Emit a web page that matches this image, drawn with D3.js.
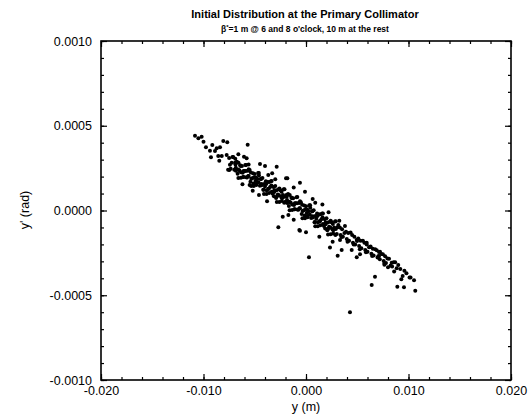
<!DOCTYPE html>
<html><head><meta charset="utf-8">
<script src="https://cdn.jsdelivr.net/npm/d3@7"></script>
<style>
body{margin:0;background:#fff}
svg{display:block}
text{font-family:"Liberation Sans",Arial,Helvetica,sans-serif;fill:#000}
</style>
</head><body>
<svg id="chart" width="530" height="417"></svg>
<script>
// ---------------- data ----------------
const titleText = "Initial Distribution at the Primary Collimator";
const subtitleParts = ["β", "*", "=1 m @ 6 and 8 o'clock, 10 m at the rest"];
const xLabelText = "y (m)";
const yLabelText = "y' (rad)";

const xTicks = [-0.020, -0.010, 0.000, 0.010, 0.020];
const xTickLabels = ["-0.020", "-0.010", "0.000", "0.010", "0.020"];
const yTicks = [-0.0010, -0.0005, 0.0000, 0.0005, 0.0010];
const yTickLabels = ["-0.0010", "-0.0005", "0.0000", "0.0005", "0.0010"];

// [y (m), y' (rad)] — upper-left tail and scattered particles
const tailPoints = [
  [-0.01083,0.000441],[-0.0105,0.000426],[-0.01018,0.000435],[-0.01,0.000405],[-0.00976,0.000373],
  [-0.00937,0.000353],[-0.00914,0.000386],[-0.00888,0.000351],[-0.00871,0.000367],[-0.00839,0.000373],
  [-0.00807,0.00041],[-0.00768,0.000402],[-0.00569,0.000388],[-0.00927,0.000314],[-0.00856,0.000322],
  [-0.00822,0.000322],[-0.00846,0.000294],[-0.00774,0.000327],[-0.0066,0.000332],[-0.00605,0.000317],
  [-0.00579,0.000308],[-0.00748,0.000239],[-0.0052,0.000117],[-0.00459,0.000091],[-0.00368,0.000209],
  [-0.00286,0.000258],[-0.00449,0.000274],[-0.004,0.000263],[-0.00059,0.000164],[-0.00195,0.00019],
  [-0.00182,0.00019],[-0.0001,0.000111],[0.00065,0.000068],[-0.0027,-0.000099],[-0.00065,-0.000115],
  [-0.00227,-0.000037],[-0.00172,-0.000027],[-0.003,0.000185],[-0.0012,0.000135],[0.0009,0.000045],
  [0.0016,0.000035],[0.0022,-0.00001],[-0.0056,0.000272],[-0.0069,0.000305],[-0.0033,0.00022],
  [-0.0062,0.000155],[-0.0038,0.000055],[-0.0012,-0.000055],[0.0013,-0.000155],[0.0026,-0.000185],
  [-0.0055,0.00015]
];

// [y (m), y' (rad)] — dense core of the distribution
const corePoints = [
  [-0.0075,0.00031],[-0.00742,0.00027],[-0.0076,0.00024],
  [-0.00725,0.000281],[-0.00717,0.000316],[-0.00735,0.000246],
  [-0.007,0.000241],[-0.00692,0.000281],[-0.0071,0.000316],
  [-0.00675,0.000287],[-0.00667,0.000217],[-0.00685,0.000252],
  [-0.0065,0.000237],[-0.00642,0.000267],[-0.0066,0.000192],
  [-0.00625,0.000263],[-0.00617,0.000223],[-0.00635,0.000193],
  [-0.006,0.000233],[-0.00592,0.000268],[-0.0061,0.000198],
  [-0.00575,0.000194],[-0.00567,0.000234],[-0.00585,0.000269],
  [-0.0055,0.000239],[-0.00542,0.000169],[-0.0056,0.000204],
  [-0.00525,0.00019],[-0.00517,0.00022],[-0.00535,0.000145],
  [-0.005,0.000215],[-0.00492,0.000175],[-0.0051,0.000145],
  [-0.00475,0.000186],[-0.00467,0.000221],[-0.00485,0.000151],
  [-0.0045,0.000146],[-0.00442,0.000186],[-0.0046,0.000221],
  [-0.00425,0.000192],[-0.00417,0.000122],[-0.00435,0.000157],
  [-0.004,0.000142],[-0.00392,0.000172],[-0.0041,0.000097],
  [-0.00375,0.000168],[-0.00367,0.000128],[-0.00385,0.000098],
  [-0.0035,0.000138],[-0.00342,0.000173],[-0.0036,0.000103],
  [-0.00325,0.000099],[-0.00317,0.000139],[-0.00335,0.000174],
  [-0.003,0.000144],[-0.00292,0.000074],[-0.0031,0.000109],
  [-0.00275,0.000095],[-0.00267,0.000125],[-0.00285,0.00005],
  [-0.0025,0.00012],[-0.00242,0.00008],[-0.0026,0.00005],
  [-0.00225,0.000091],[-0.00217,0.000126],[-0.00235,0.000056],
  [-0.002,0.000051],[-0.00192,0.000091],[-0.0021,0.000126],
  [-0.00175,0.000097],[-0.00167,0.000027],[-0.00185,0.000062],
  [-0.0015,0.000047],[-0.00142,0.000077],[-0.0016,0.000002],
  [-0.00125,0.000073],[-0.00117,0.000033],[-0.00135,0.000003],
  [-0.001,0.000043],[-0.00092,0.000078],[-0.0011,0.000008],
  [-0.00075,0.000004],[-0.00067,0.000044],[-0.00085,0.000079],
  [-0.0005,0.000049],[-0.00042,-0.000021],[-0.0006,0.000014],
  [-0.00025,0],[-0.00017,0.00003],[-0.00035,-0.000046],
  [0,0.000025],[0.00008,-0.000015],[-0.0001,-0.000045],
  [0.00025,-0.000005],[0.00033,0.000031],[0.00015,-0.00004],
  [0.0005,-0.000044],[0.00058,-0.000004],[0.0004,0.000031],
  [0.00075,0.000002],[0.00083,-0.000069],[0.00065,-0.000034],
  [0.001,-0.000048],[0.00108,-0.000018],[0.0009,-0.000093],
  [0.00125,-0.000023],[0.00133,-0.000063],[0.00115,-0.000093],
  [0.0015,-0.000052],[0.00158,-0.000017],[0.0014,-0.000087],
  [0.00175,-0.000092],[0.00183,-0.000052],[0.00165,-0.000017],
  [0.002,-0.000046],[0.00208,-0.000116],[0.0019,-0.000081],
  [0.00225,-0.000096],[0.00233,-0.000066],[0.00215,-0.000141],
  [0.0025,-0.00007],[0.00258,-0.00011],[0.0024,-0.00014],
  [0.00275,-0.0001],[0.00283,-0.000065],[0.00265,-0.000135],
  [0.003,-0.000139],[0.00308,-0.000099],[0.0029,-0.000064],
  [0.0033,-0.000101],[0.00338,-0.000145],
  [0.0036,-0.000155],[0.00352,-0.00011],
  [0.0039,-0.000125],[0.00398,-0.000168],
  [0.0042,-0.000178],[0.00412,-0.000133],
  [0.0045,-0.000145],[0.00458,-0.00019],
  [0.0048,-0.0002],[0.00472,-0.000155],
  [0.0051,-0.000165],[0.00518,-0.00021],
  [0.0054,-0.000222],[0.00532,-0.000178],
  [0.0057,-0.00019],[0.00578,-0.000233],
  [0.006,-0.000243],[0.00592,-0.0002],
  [0.0063,-0.000212],[0.00638,-0.000255],
  [0.0066,-0.000265],[0.00652,-0.000225],
  [0.0069,-0.000235],[0.00698,-0.000278],
  [0.0072,-0.000288],[0.00712,-0.000245],
  [0.0075,-0.000258],[0.00758,-0.000298],
  [0.0078,-0.00031],[0.00772,-0.00027],
  [0.0081,-0.000285],[0.0084,-0.00033],[0.0087,-0.000305],[0.009,-0.000322],[0.0092,-0.000345]
];

// [y (m), y' (rad)] — further particles filling the dense core
const coreFillPoints = [
  [-0.00688,0.000271],[-0.00684,0.000234],[-0.00663,0.000242],[-0.00659,0.000282],
  [-0.00638,0.000262],[-0.00634,0.000225],[-0.00613,0.000198],[-0.00609,0.000233],
  [-0.00588,0.000233],[-0.00584,0.000196],[-0.00563,0.000204],[-0.00559,0.000244],
  [-0.00538,0.000224],[-0.00534,0.000187],[-0.00513,0.00016],[-0.00509,0.000195],
  [-0.00488,0.000195],[-0.00484,0.000158],[-0.00463,0.000166],[-0.00459,0.000206],
  [-0.00438,0.000186],[-0.00434,0.000149],[-0.00413,0.000122],[-0.00409,0.000157],
  [-0.00388,0.000157],[-0.00384,0.00012],[-0.00363,0.000128],[-0.00359,0.000168],
  [-0.00338,0.000148],[-0.00334,0.000111],[-0.00313,0.000084],[-0.00309,0.000119],
  [-0.00288,0.000119],[-0.00284,0.000082],[-0.00263,0.00009],[-0.00259,0.00013],
  [-0.00238,0.00011],[-0.00234,0.000073],[-0.00213,0.000046],[-0.00209,0.000081],
  [-0.00188,0.000081],[-0.00184,0.000044],[-0.00163,0.000052],[-0.00159,0.000092],
  [-0.00138,0.000072],[-0.00134,0.000035],[-0.00113,0.000008],[-0.00109,0.000043],
  [-0.00088,0.000043],[-0.00084,0.000006],[-0.00063,0.000014],[-0.00059,0.000054],
  [-0.00038,0.000034],[-0.00034,-0.000003],[-0.00013,-0.00003],[-0.00009,0.000005],
  [0.00012,0.000005],[0.00016,-0.000032],[0.00037,-0.000024],[0.00041,0.000016],
  [0.00062,-0.000004],[0.00066,-0.000041],[0.00087,-0.000068],[0.00091,-0.000033],
  [0.00112,-0.000033],[0.00116,-0.00007],[0.00137,-0.000062],[0.00141,-0.000022],
  [0.00162,-0.000042],[0.00166,-0.000079],[0.00187,-0.000106],[0.00191,-0.000071],
  [0.00212,-0.000071],[0.00216,-0.000108],[0.00237,-0.0001],[0.00241,-0.00006],
  [0.00262,-0.00008],[0.00266,-0.000117],[0.00287,-0.000144],[0.00291,-0.000109],
  [0.00315,-0.000086],[0.00345,-0.000157],[0.00375,-0.000133],[0.00405,-0.000184],
  [0.00435,-0.00013],[0.00465,-0.000201],[0.00495,-0.000172],[0.00525,-0.000228],
  [0.00555,-0.000179],[0.00585,-0.000246],[0.00615,-0.000217],[0.00645,-0.000268],
  [0.00675,-0.000229],[0.00705,-0.00027],[0.00735,-0.000256],[0.00765,-0.000312],
  [0.00795,-0.000283],[0.00825,-0.000324],[0.00855,-0.000305],[0.00885,-0.000341]
];

// [y (m), y' (rad)] — lower-right part and outliers
const rightPoints = [
  [0.00029,-0.000276],[0.00234,-0.000219],[0.00309,-0.000267],[0.00325,-0.00006],[0.0038,-0.000091],
  [-0.00059,-0.000119],[0,-0.000129],[0.00673,-0.000391],[0.00641,-0.00044],[0.00429,-0.000601],
  [0.00891,-0.00045],[0.00956,-0.000453],[0.01054,-0.000412],[0.01066,-0.000473],[0.00943,-0.000386],
  [0.00836,-0.000308],[0.00722,-0.000243],[0.00712,-0.000268],[0.00527,-0.000258],[0.00495,-0.000276],
  [0.00446,-0.000233],[0.00332,-0.000174],[0.00348,-0.000233],[0.00592,-0.00019],[0.00624,-0.000215],
  [0.00498,-0.00018],[0.0098,-0.00037],[0.0101,-0.000395],[0.008,-0.000335],[0.00765,-0.00032],
  [0.0086,-0.00036],[0.0093,-0.000405],[0.0096,-0.000355],[0.0102,-0.000395]
];

// ---------------- chart ----------------
const svg = d3.select("#chart");
const L = 101, R = 511, T = 41, B = 380;

const x = d3.scaleLinear().domain([-0.020, 0.020]).range([L, R]);
const y = d3.scaleLinear().domain([-0.0010, 0.0010]).range([B, T]);

const xMinor = x.ticks(20);
const yMinor = y.ticks(20);

function styleAxis(g) {
  g.select(".domain").remove();
  g.selectAll(".tick line").attr("stroke", "#000").attr("stroke-width", 1.2);
  g.selectAll(".tick text")
    .attr("font-family", '"Liberation Sans", Arial, sans-serif')
    .attr("font-size", "12.5px")
    .attr("fill", "#000");
}

// bottom
svg.append("g").attr("transform", `translate(0,${B})`)
  .call(d3.axisBottom(x).tickValues(xMinor).tickSizeInner(-3).tickSizeOuter(0).tickFormat(""))
  .call(styleAxis);
svg.append("g").attr("transform", `translate(0,${B})`)
  .call(d3.axisBottom(x).tickValues(xTicks).tickSizeInner(-6).tickSizeOuter(0).tickPadding(6)
    .tickFormat((d, i) => xTickLabels[i]))
  .call(styleAxis);
// top
svg.append("g").attr("transform", `translate(0,${T})`)
  .call(d3.axisTop(x).tickValues(xMinor).tickSizeInner(-3).tickSizeOuter(0).tickFormat(""))
  .call(styleAxis);
svg.append("g").attr("transform", `translate(0,${T})`)
  .call(d3.axisTop(x).tickValues(xTicks).tickSizeInner(-6).tickSizeOuter(0).tickFormat(""))
  .call(styleAxis);
// left
svg.append("g").attr("transform", `translate(${L},0)`)
  .call(d3.axisLeft(y).tickValues(yMinor).tickSizeInner(-3).tickSizeOuter(0).tickFormat(""))
  .call(styleAxis);
svg.append("g").attr("transform", `translate(${L},0)`)
  .call(d3.axisLeft(y).tickValues(yTicks).tickSizeInner(-6).tickSizeOuter(0).tickPadding(9)
    .tickFormat((d, i) => yTickLabels[i]))
  .call(styleAxis);
// right
svg.append("g").attr("transform", `translate(${R},0)`)
  .call(d3.axisRight(y).tickValues(yMinor).tickSizeInner(-3).tickSizeOuter(0).tickFormat(""))
  .call(styleAxis);
svg.append("g").attr("transform", `translate(${R},0)`)
  .call(d3.axisRight(y).tickValues(yTicks).tickSizeInner(-6).tickSizeOuter(0).tickFormat(""))
  .call(styleAxis);

// frame
svg.append("rect")
  .attr("x", x(-0.020)).attr("y", y(0.0010))
  .attr("width", x(0.020) - x(-0.020)).attr("height", y(-0.0010) - y(0.0010))
  .attr("fill", "none").attr("stroke", "#000").attr("stroke-width", 1.6);

// points
const allPoints = tailPoints.concat(corePoints, coreFillPoints, rightPoints);
svg.append("g").selectAll("circle").data(allPoints).join("circle")
  .attr("cx", d => x(d[0])).attr("cy", d => y(d[1]))
  .attr("r", 2).attr("fill", "#000");

// titles
svg.append("text").attr("x", 305).attr("y", 18).attr("text-anchor", "middle")
  .attr("font-size", "11px").attr("font-weight", "bold").text(titleText);
const sub = svg.append("text").attr("x", 305).attr("y", 32).attr("text-anchor", "middle")
  .attr("font-size", "8.5px").attr("font-weight", "bold");
sub.append("tspan").text(subtitleParts[0]);
sub.append("tspan").attr("dy", -3).attr("font-size", "6px").text(subtitleParts[1]);
sub.append("tspan").attr("dy", 3).text(subtitleParts[2]);

// axis labels
svg.append("text").attr("x", 306).attr("y", 411).attr("text-anchor", "middle")
  .attr("font-size", "12.5px").text(xLabelText);
svg.append("text").attr("transform", "translate(29,210) rotate(-90)").attr("text-anchor", "middle")
  .attr("font-size", "12.5px").text(yLabelText);
</script>
</body></html>
